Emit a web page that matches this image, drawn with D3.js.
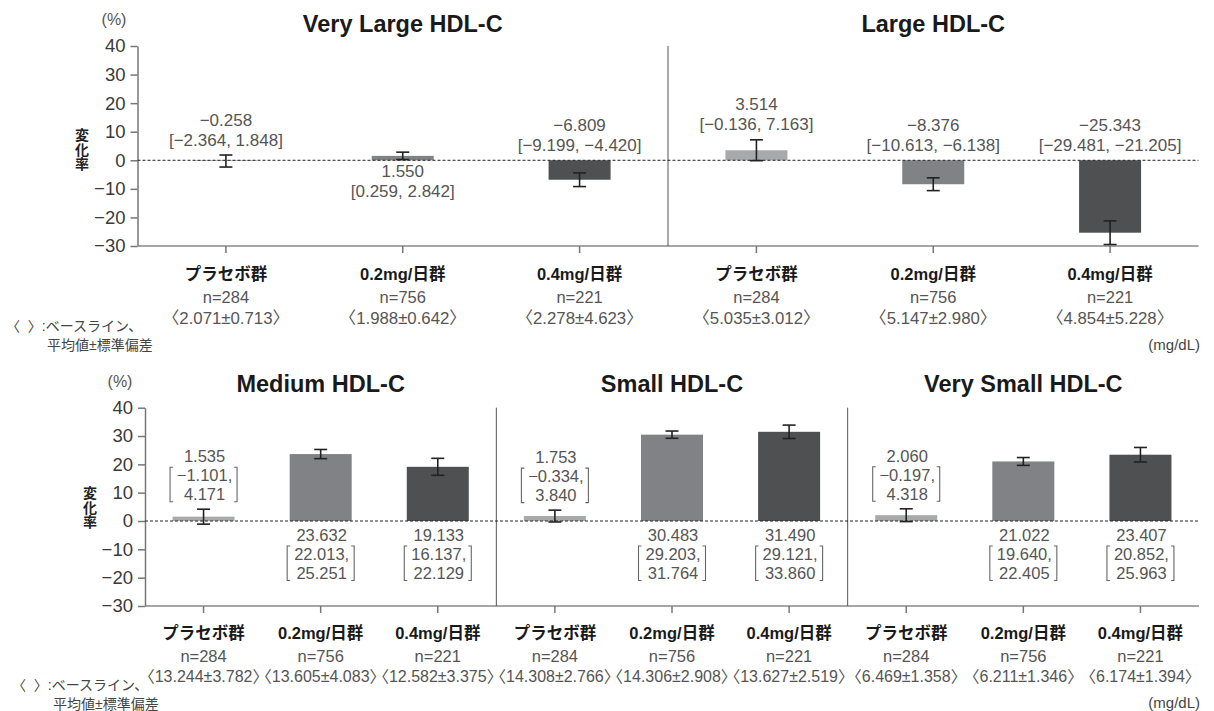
<!DOCTYPE html>
<html lang="ja">
<head>
<meta charset="utf-8">
<script src="https://cdn.jsdelivr.net/npm/d3@7/dist/d3.min.js"></script>
<style>
  html, body { margin: 0; padding: 0; background: #fff; }
  svg { display: block; font-family: "Liberation Sans", "Noto Sans CJK JP", sans-serif; }
</style>
</head>
<body>
<svg id="chart" width="1214" height="711"></svg>
<script>
// HDL subclass: % change from baseline by treatment group
const groups = ["プラセボ群", "0.2mg/日群", "0.4mg/日群"];
const groupN = [284, 756, 221];
const panelTitles = ["Very Large HDL-C", "Large HDL-C", "Medium HDL-C", "Small HDL-C", "Very Small HDL-C"];

// least-squares mean % change and 95% CI, one row per subclass
const meanChange = [
  [-0.258, 1.550, -6.809],
  [3.514, -8.376, -25.343],
  [1.535, 23.632, 19.133],
  [1.753, 30.483, 31.490],
  [2.060, 21.022, 23.407]
];
const ciLower = [
  [-2.364, 0.259, -9.199],
  [-0.136, -10.613, -29.481],
  [-1.101, 22.013, 16.137],
  [-0.334, 29.203, 29.121],
  [-0.197, 19.640, 20.852]
];
const ciUpper = [
  [1.848, 2.842, -4.420],
  [7.163, -6.138, -21.205],
  [4.171, 25.251, 22.129],
  [3.840, 31.764, 33.860],
  [4.318, 22.405, 25.963]
];

// baseline concentration (mg/dL), mean ± SD
const baselineMean = [
  [2.071, 1.988, 2.278],
  [5.035, 5.147, 4.854],
  [13.244, 13.605, 12.582],
  [14.308, 14.306, 13.627],
  [6.469, 6.211, 6.174]
];
const baselineSD = [
  [0.713, 0.642, 4.623],
  [3.012, 2.980, 5.228],
  [3.782, 4.083, 3.375],
  [2.766, 2.908, 2.519],
  [1.358, 1.346, 1.394]
];

const yTicks = [-30, -20, -10, 0, 10, 20, 30, 40];
const yDomain = [-30, 40];

// ---- layout / style ----
const barColors = ["#a7a9ac", "#808285", "#4f5052"];
const barWidth = 62;
const capHalf = 6.5;
const fmt = v => d3.format(".3f")(v).replace("-", "\u2212");

// value labels drawn under the zero line instead of above the bar
const labelBelow = [
  [false, true, false],
  [false, false, false],
  [false, true, true],
  [false, true, true],
  [false, true, true]
];

const rows = [
  { panels: [0, 1], x0: 137.5, x1: 1198.5, yTop: 46, yBot: 246, titleY: 32,
    pctY: 31, pctX: 114, ylabX: 82, ylabY: 135, style: "inline", labFont: 17,
    grpY: 280, nY: 302.5, baseY: 324, noteX: [6, 47], noteY: [330.5, 349.5], unitY: 350,
    baseFont: 16.8 },
  { panels: [2, 3, 4], x0: 145, x1: 1199, yTop: 407.7, yBot: 606, titleY: 392,
    pctY: 392.5, pctX: 120, ylabX: 90, ylabY: 493, style: "stacked", labFont: 16.5,
    grpY: 639, nY: 662, baseY: 681.5, noteX: [12, 53], noteY: [690, 708.5], unitY: 708,
    baseFont: 16 }
];

const svg = d3.select("#chart");

rows.forEach(row => {
  const g = svg.append("g");
  const y = d3.scaleLinear().domain(yDomain).range([row.yBot, row.yTop]);
  const y0 = y(0);
  const panelW = (row.x1 - row.x0) / row.panels.length;

  // y axis
  const yAxis = d3.axisLeft(y).tickValues(yTicks).tickSize(7).tickSizeOuter(0).tickPadding(5)
    .tickFormat(d => String(d).replace("-", "\u2212"));
  const ya = g.append("g").attr("transform", `translate(${row.x0},0)`).call(yAxis);
  ya.attr("font-size", null).attr("font-family", null);
  ya.select(".domain").attr("stroke", "#777").attr("stroke-width", 1.5);
  ya.selectAll(".tick line").attr("stroke", "#777").attr("stroke-width", 1.5);
  ya.selectAll(".tick text").attr("fill", "#3a3a3a").style("font-size", "18.5px");

  // (%) unit and axis caption
  g.append("text").attr("x", row.pctX).attr("y", row.pctY - 6).attr("text-anchor", "middle")
    .attr("fill", "#555").style("font-size", "16px").text("(%)");
  ["変", "化", "率"].forEach((ch, i) => {
    g.append("text").attr("x", row.ylabX).attr("y", row.ylabY + 5 + i * 14.5)
      .attr("text-anchor", "middle").attr("fill", "#222").style("font-size", "14px")
      .style("font-weight", "bold").text(ch);
  });

  // x axis baseline
  g.append("line").attr("x1", row.x0).attr("x2", row.x1).attr("y1", row.yBot).attr("y2", row.yBot)
    .attr("stroke", "#888").attr("stroke-width", 1.5);

  row.panels.forEach((p, pi) => {
    const px0 = row.x0 + pi * panelW, px1 = px0 + panelW;
    const x = d3.scaleBand().domain(groups).range([px0, px1]);
    const cx = d => x(d) + x.bandwidth() / 2;

    // separator between panels
    if (pi > 0) {
      g.append("line").attr("x1", px0).attr("x2", px0).attr("y1", row.yTop).attr("y2", row.yBot)
        .attr("stroke", "#555").attr("stroke-width", 1);
    }

    // title
    g.append("text").attr("x", (px0 + px1) / 2).attr("y", row.titleY).attr("text-anchor", "middle")
      .attr("fill", "#1a1a1a").style("font-size", "23.5px").style("font-weight", "bold")
      .text(panelTitles[p]);

    const data = groups.map((grp, i) => ({
      grp, i, v: meanChange[p][i], lo: ciLower[p][i], hi: ciUpper[p][i],
      below: labelBelow[p][i]
    }));

    // bars
    g.selectAll(null).data(data).join("rect")
      .attr("x", d => cx(d.grp) - barWidth / 2)
      .attr("width", barWidth)
      .attr("y", d => Math.min(y(d.v), y0))
      .attr("height", d => Math.abs(y(d.v) - y0))
      .attr("fill", d => barColors[d.i]);

    // error bars
    const eb = g.selectAll(null).data(data).join("g").attr("stroke", "#222").attr("stroke-width", 1.6);
    eb.append("line").attr("x1", d => cx(d.grp)).attr("x2", d => cx(d.grp))
      .attr("y1", d => y(d.lo)).attr("y2", d => y(d.hi));
    eb.append("line").attr("x1", d => cx(d.grp) - capHalf).attr("x2", d => cx(d.grp) + capHalf)
      .attr("y1", d => y(d.lo)).attr("y2", d => y(d.lo));
    eb.append("line").attr("x1", d => cx(d.grp) - capHalf).attr("x2", d => cx(d.grp) + capHalf)
      .attr("y1", d => y(d.hi)).attr("y2", d => y(d.hi));

    // x ticks
    g.selectAll(null).data(data).join("line")
      .attr("x1", d => cx(d.grp)).attr("x2", d => cx(d.grp))
      .attr("y1", row.yBot).attr("y2", row.yBot + 7)
      .attr("stroke", "#777").attr("stroke-width", 1.5);

    // value labels
    data.forEach(d => {
      const c = cx(d.grp);
      const top = Math.min(y0, y(d.hi), y(d.v));
      const lab = g.append("g").attr("fill", "#555").style("font-size", row.labFont + "px")
        .attr("text-anchor", "middle");
      if (row.style === "inline") {
        const lines = [fmt(d.v), `[${fmt(d.lo)}, ${fmt(d.hi)}]`];
        const b0 = d.below ? y0 + 17 : top - 9.5 - 20;
        lines.forEach((t, k) => lab.append("text").attr("x", c).attr("y", b0 + k * 20).text(t));
      } else {
        const lines = [fmt(d.v), fmt(d.lo) + ",", fmt(d.hi)];
        const b0 = d.below ? y0 + 20 : top - 9 - 38;
        lines.forEach((t, k) => lab.append("text").attr("x", c + 1).attr("y", b0 + k * 19).text(t));
        // tall square brackets around the CI
        const bt = b0 + 19 - 14, bb = b0 + 38 + 1.5, bl = c - 33.5, br = c + 33.5;
        lab.append("path")
          .attr("d", `M${bl + 3},${bt}H${bl}V${bb}H${bl + 3}M${br - 3},${bt}H${br}V${bb}H${br - 3}`)
          .attr("fill", "none").attr("stroke", "#666").attr("stroke-width", 1.1);
      }
    });

    // group names, n and baseline
    data.forEach(d => {
      const c = cx(d.grp);
      g.append("text").attr("x", c).attr("y", row.grpY).attr("text-anchor", "middle")
        .attr("fill", "#1a1a1a").style("font-size", "16.5px").style("font-weight", "bold").text(d.grp);
      g.append("text").attr("x", c).attr("y", row.nY).attr("text-anchor", "middle")
        .attr("fill", "#555").style("font-size", "16.5px").text(`n=${groupN[d.i]}`);
      g.append("text").attr("x", c).attr("y", row.baseY).attr("text-anchor", "middle")
        .attr("fill", "#555").style("font-size", row.baseFont + "px")
        .text(`\u3008${baselineMean[p][d.i].toFixed(3)}±${baselineSD[p][d.i].toFixed(3)}\u3009`);
    });
  });

  // dashed zero reference line
  g.append("line").attr("x1", row.x0).attr("x2", row.x1).attr("y1", y0).attr("y2", y0)
    .attr("stroke", "#222").attr("stroke-width", 1).attr("stroke-dasharray", "3,2");

  // footnotes
  g.append("text").attr("x", row.noteX[0]).attr("y", row.noteY[0]).attr("fill", "#444")
    .style("font-size", "14px").style("white-space", "pre").text("〈\u00a0\u00a0〉:ベースライン、");
  g.append("text").attr("x", row.noteX[1]).attr("y", row.noteY[1]).attr("fill", "#444")
    .style("font-size", "14px").text("平均値±標準偏差");
  g.append("text").attr("x", 1200).attr("y", row.unitY).attr("text-anchor", "end").attr("fill", "#444")
    .style("font-size", "15px").text("(mg/dL)");
});
</script>
</body>
</html>
